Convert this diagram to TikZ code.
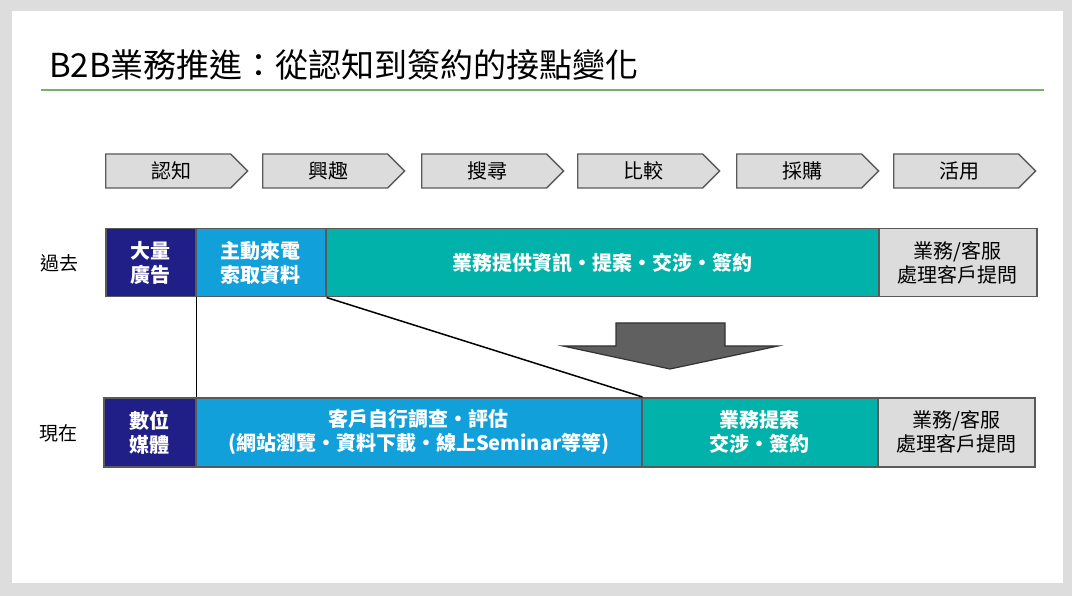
\documentclass[tikz,border=0pt]{standalone}
\usepackage{fontspec}
\setmainfont{Noto Sans CJK TC}
\usetikzlibrary{shapes.symbols}
\definecolor{pagebg}{RGB}{221,221,221}
\definecolor{navy}{RGB}{32,31,135}
\definecolor{sky}{RGB}{18,160,219}
\definecolor{teal}{RGB}{0,178,169}
\definecolor{lgray}{RGB}{220,220,220}
\definecolor{edge}{RGB}{90,90,90}
\definecolor{greenline}{RGB}{120,176,105}
\definecolor{arrowfill}{RGB}{96,96,96}
\begin{document}
\begin{tikzpicture}[x=1pt,y=-1pt,
  chev/.style={shape=signal, signal to=east, signal pointer angle=90, draw=edge, line width=1.3pt, fill=lgray, minimum height=34pt, minimum width=142pt, inner sep=0pt, anchor=west, font=\fontsize{20}{24}\selectfont},
  cell/.style={draw=edge, line width=1.5pt, anchor=north west, inner sep=0pt, align=center, font=\bfseries\fontsize{20}{24}\selectfont},
  dark/.style={cell, fill=navy, text=white},
  blue/.style={cell, fill=sky, text=white},
  green/.style={cell, fill=teal, text=white},
  grey/.style={cell, fill=lgray, text=black, font=\fontsize{20}{24}\selectfont},
  rowlabel/.style={font=\fontsize{19}{22}\selectfont},
  link/.style={line width=1.5pt, black}
]
\fill[pagebg] (0,0) rectangle (1072,596);
\fill[white] (12,11) rectangle (1063,583);
\useasboundingbox (0,0) rectangle (1072,596);

\node[anchor=west, inner sep=0pt, font=\fontsize{33}{37}\selectfont] (title) at (49,65) {B2B業務推進：從認知到簽約的接點變化};
\draw[greenline, line width=1.2pt] (41,90) -- (1044,90);

\node[chev] (c1) at (105,171) {\hspace*{6pt}認知};
\node[chev] (c2) at (262,171) {\hspace*{6pt}興趣};
\node[chev] (c3) at (421,171) {\hspace*{6pt}搜尋};
\node[chev] (c4) at (577,171) {\hspace*{6pt}比較};
\node[chev] (c5) at (736,171) {\hspace*{6pt}採購};
\node[chev] (c6) at (893,171) {\hspace*{6pt}活用};

\node[rowlabel] (past) at (60,263) {過去};
\node[rowlabel] (now) at (58,433) {現在};

% past row
\node[dark, minimum width=90pt, minimum height=68pt] (p1) at (105,228) {大量\\廣告};
\node[blue, minimum width=130pt, minimum height=68pt] (p2) at (195,228) {主動來電\\索取資料};
\node[green, minimum width=553pt, minimum height=68pt] (p3) at (325,228) {業務提供資訊・提案・交涉・簽約};
\node[grey, minimum width=158pt, minimum height=68pt] (p4) at (878,228) {業務/客服\\處理客戶提問};

% now row
\node[dark, minimum width=92pt, minimum height=69pt] (n1) at (103,397) {數位\\媒體};
\node[blue, minimum width=446pt, minimum height=69pt] (n2) at (195,397) {客戶自行調查・評估\\(網站瀏覽・資料下載・線上Seminar等等)};
\node[green, minimum width=236pt, minimum height=69pt] (n3) at (641,397) {業務提案\\交涉・簽約};
\node[grey, minimum width=157pt, minimum height=69pt] (n4) at (877,397) {業務/客服\\處理客戶提問};

\draw[link] (p1.south east) -- (n1.north east);
\draw[link] (p2.south east) -- (n2.north east);

\draw[fill=arrowfill, draw=black!80, line width=1.2pt, line join=miter]
  (616,323) -- (725,323) -- (725,346) -- (778,346) -- (670,369) -- (563,346) -- (616,346) -- cycle;
\end{tikzpicture}
\end{document}
